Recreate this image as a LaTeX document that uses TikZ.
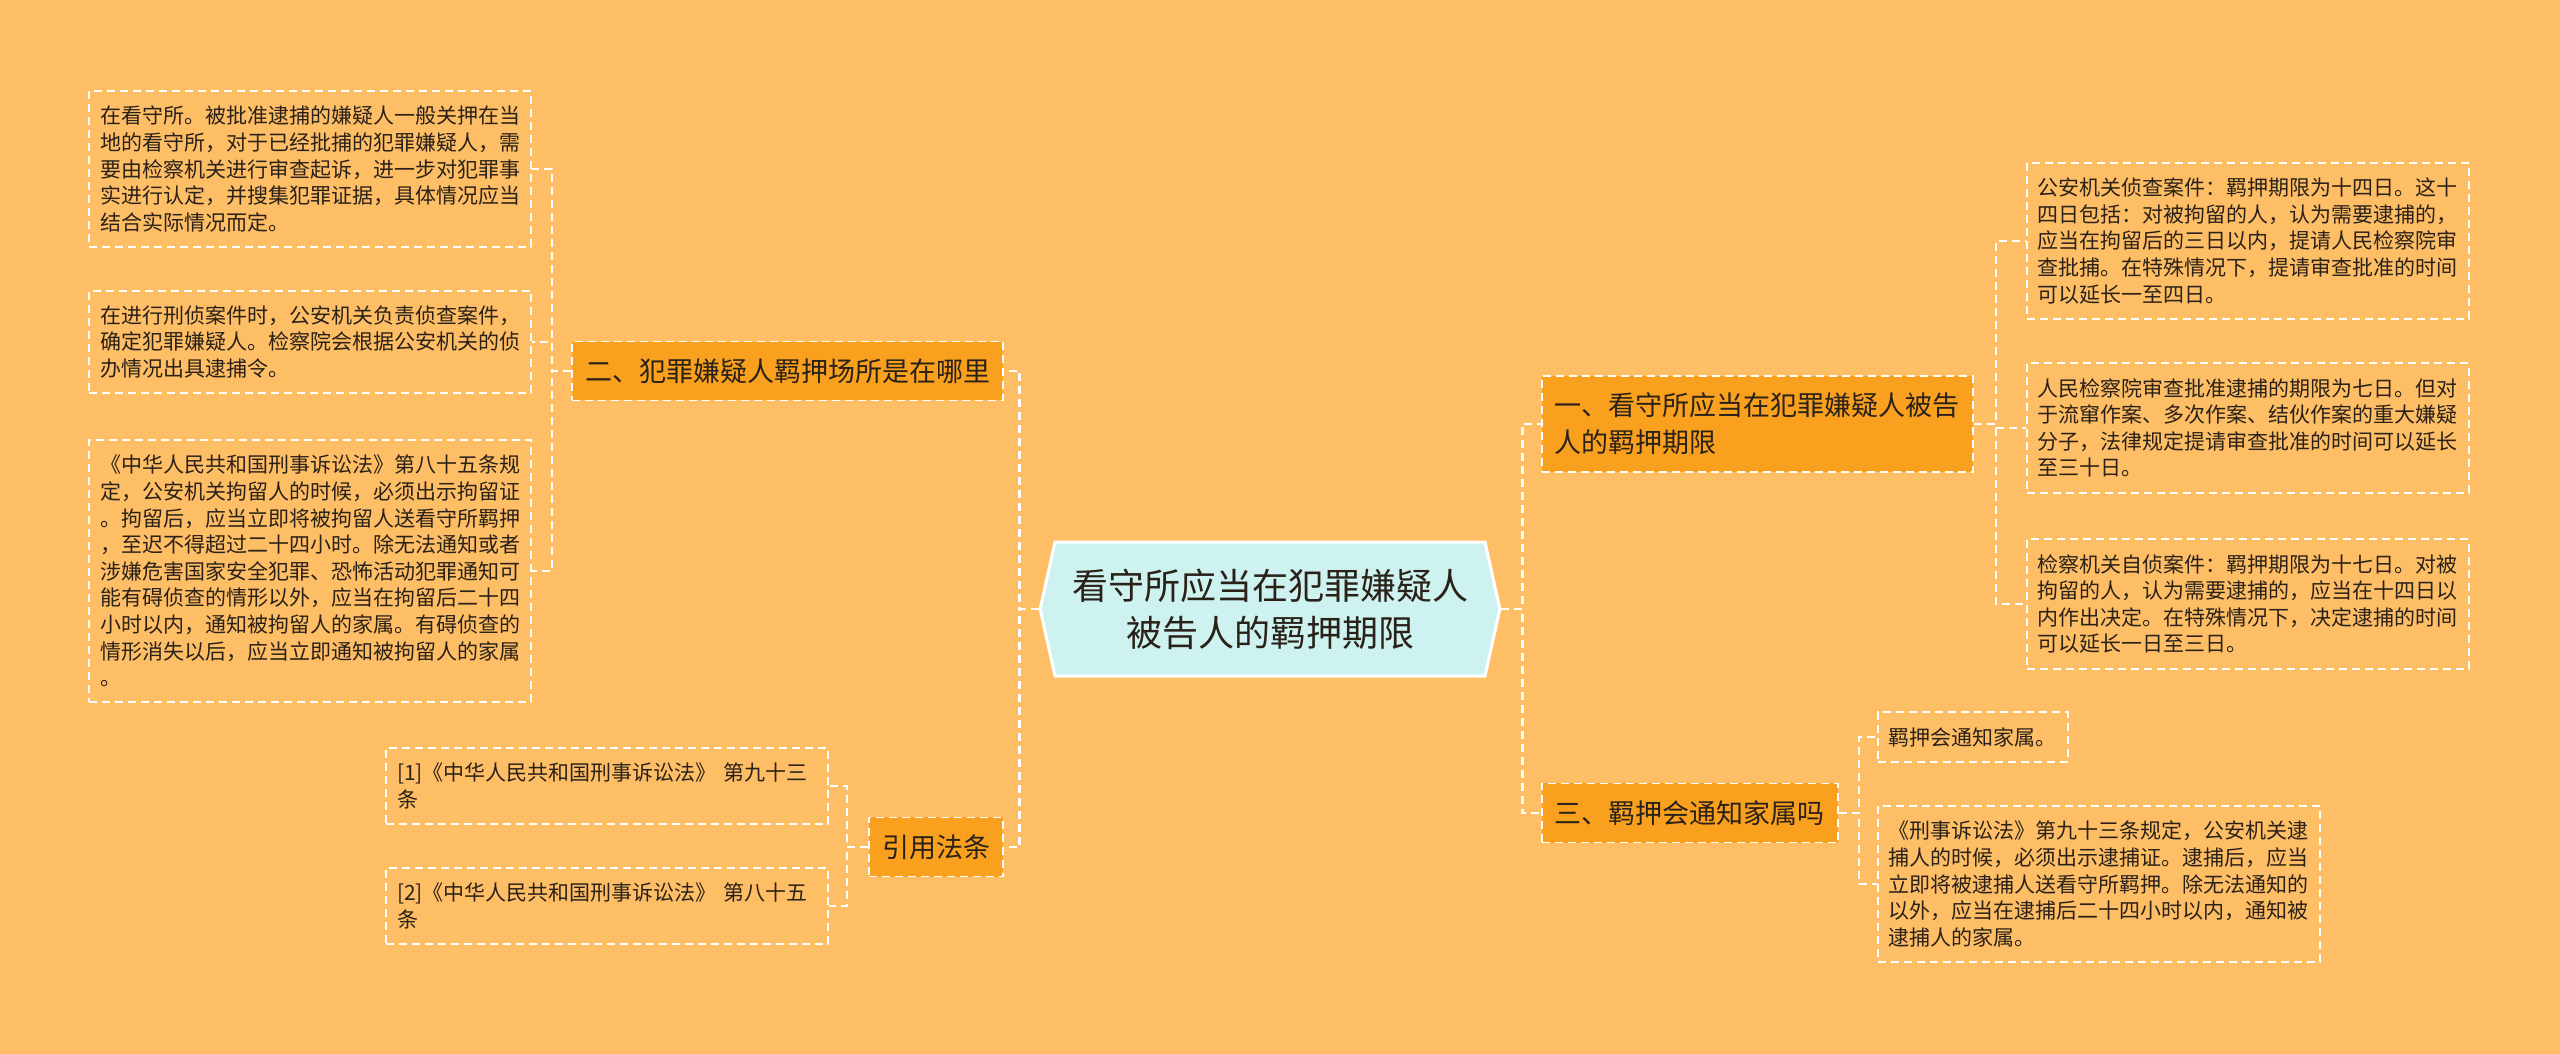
\documentclass[tikz,border=0pt]{standalone}
\usepackage{fontspec}
\setmainfont{Noto Sans CJK SC}
\usepackage{tikz}
\usetikzlibrary{shapes.symbols}

\definecolor{bgorange}{HTML}{FEBE66}
\definecolor{branchorange}{HTML}{F9A11E}
\definecolor{rootcyan}{HTML}{CDF2F0}
\definecolor{inkdark}{HTML}{2A2118}

\begin{document}
\begin{tikzpicture}[x=0.5pt,y=-0.5pt,
            root/.style={
                shape=signal, signal to=west and east, signal pointer angle=155,
                fill=rootcyan, draw=white, line width=1.5pt, text=inkdark,
                text width=198pt, align=center, inner xsep=8.5pt, minimum height=67pt,
                font=\fontsize{18pt}{23.5pt}\selectfont},
            branch/.style={
                rectangle, fill=branchorange, draw=white, line width=0.9pt,
                dash pattern=on 4pt off 2.5pt, text=inkdark, align=left,
                inner xsep=6.5pt, inner ysep=8.5pt,
                font=\fontsize{13.5pt}{18.5pt}\selectfont},
            leaf/.style={
                rectangle, draw=white, line width=0.9pt,
                dash pattern=on 4pt off 2.5pt, text=inkdark, align=left,
                text width=210pt, inner xsep=5.5pt, inner ysep=7.5pt,
                font=\fontsize{10.5pt}{13.3pt}\selectfont},
            link/.style={draw=white, line width=1.2pt, dash pattern=on 4pt off 2.5pt}]

            \fill [bgorange] (0,0) rectangle (2560,1054);
            \useasboundingbox (0,0) rectangle (2560,1054);

            \node [root] (r0) at (1270,609) {看守所应当在犯罪嫌疑人\\被告人的羁押期限};

            \node [branch,anchor=west] (b1) at (1541,424) {一、看守所应当在犯罪嫌疑人被告\\人的羁押期限};
            \node [branch,anchor=east] (b2) at (1004,371) {二、犯罪嫌疑人羁押场所是在哪里};
            \node [branch,anchor=west] (b3) at (1541,813) {三、羁押会通知家属吗};
            \node [branch,anchor=east] (b4) at (1004,847) {引用法条};

            \node [leaf,anchor=west] (l1a) at (2026,241) {
            公安机关侦查案件：羁押期限为十四日。这十\\四日包括：对被拘留的人，认为需要逮捕的，\\
            应当在拘留后的三日以内，提请人民检察院审\\查批捕。在特殊情况下，提请审查批准的时间\\
            可以延长一至四日。};
            \node [leaf,anchor=west] (l1b) at (2026,428) {
            人民检察院审查批准逮捕的期限为七日。但对\\于流窜作案、多次作案、结伙作案的重大嫌疑\\
            分子，法律规定提请审查批准的时间可以延长\\至三十日。};
            \node [leaf,anchor=west] (l1c) at (2026,604) {
            检察机关自侦案件：羁押期限为十七日。对被\\拘留的人，认为需要逮捕的，应当在十四日以\\
            内作出决定。在特殊情况下，决定逮捕的时间\\可以延长一日至三日。};

            \node [leaf,text width=,anchor=west] (l3a) at (1877,737) {羁押会通知家属。};
            \node [leaf,anchor=west] (l3b) at (1877,884) {
            《刑事诉讼法》第九十三条规定，公安机关逮\\捕人的时候，必须出示逮捕证。逮捕后，应当\\
            立即将被逮捕人送看守所羁押。除无法通知的\\以外，应当在逮捕后二十四小时以内，通知被\\
            逮捕人的家属。};

            \node [leaf,anchor=east] (l2a) at (532,169) {
            在看守所。被批准逮捕的嫌疑人一般关押在当\\地的看守所，对于已经批捕的犯罪嫌疑人，需\\
            要由检察机关进行审查起诉，进一步对犯罪事\\实进行认定，并搜集犯罪证据，具体情况应当\\
            结合实际情况而定。};
            \node [leaf,anchor=east] (l2b) at (532,342) {
            在进行刑侦案件时，公安机关负责侦查案件，\\确定犯罪嫌疑人。检察院会根据公安机关的侦\\
            办情况出具逮捕令。};
            \node [leaf,anchor=east] (l2c) at (532,571) {
            《中华人民共和国刑事诉讼法》第八十五条规\\定，公安机关拘留人的时候，必须出示拘留证\\
            。拘留后，应当立即将被拘留人送看守所羁押\\，至迟不得超过二十四小时。除无法通知或者\\
            涉嫌危害国家安全犯罪、恐怖活动犯罪通知可\\能有碍侦查的情形以外，应当在拘留后二十四\\
            小时以内，通知被拘留人的家属。有碍侦查的\\情形消失以后，应当立即通知被拘留人的家属\\
            。};

            \node [leaf,anchor=east] (l4a) at (829,786) {[1]《中华人民共和国刑事诉讼法》 第九十三\\条};
            \node [leaf,anchor=east] (l4b) at (829,906) {[2]《中华人民共和国刑事诉讼法》 第八十五\\条};

            \draw [link] (r0.east) -- ++(21,0) |- (b1.west);
            \draw [link] (r0.east) -- ++(21,0) |- (b3.west);
            \draw [link] (r0.west) -- ++(-19,0) |- (b2.east);
            \draw [link] (r0.west) -- ++(-19,0) |- (b4.east);

            \foreach \leafname in {l1a,l1b,l1c}
                \draw [link] (b1.east) -- ++(22,0) |- (\leafname.west);
            \foreach \leafname in {l3a,l3b}
                \draw [link] (b3.east) -- ++(20,0) |- (\leafname.west);
            \foreach \leafname in {l2a,l2b,l2c}
                \draw [link] (b2.west) -- ++(-19,0) |- (\leafname.east);
            \foreach \leafname in {l4a,l4b}
                \draw [link] (b4.west) -- ++(-21,0) |- (\leafname.east);
        \end{tikzpicture}
\end{document}
